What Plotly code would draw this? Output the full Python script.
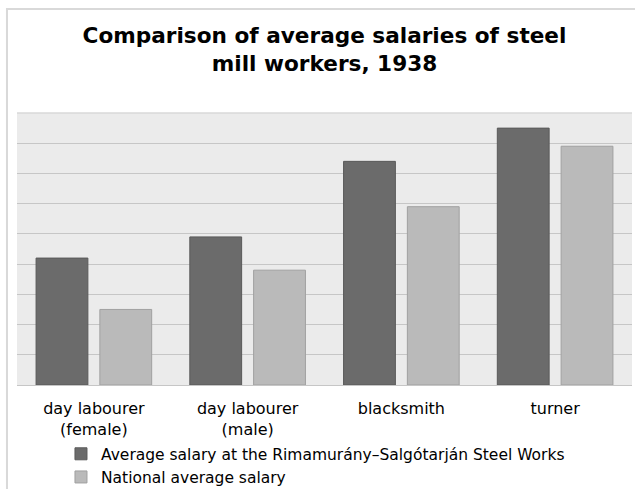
import plotly.graph_objects as go

categories = ["day labourer<br>(female)", "day labourer<br>(male)", "blacksmith", "turner"]
works_salary = [42, 49, 74, 85]
national_salary = [25, 38, 59, 79]
series_names = ["Average salary at the Rimamurány–Salgótarján Steel Works", "National average salary"]

FONT = "DejaVu Sans"

fig = go.Figure()
fig.add_trace(go.Bar(x=categories, y=works_salary, name=series_names[0],
                     marker=dict(color="#6b6b6b", line=dict(color="#5a5a5a", width=1))))
fig.add_trace(go.Bar(x=categories, y=national_salary, name=series_names[1],
                     marker=dict(color="#bababa", line=dict(color="#a0a0a0", width=1))))

fig.update_layout(
    width=635, height=489,
    margin=dict(l=17, r=3, t=113, b=104, autoexpand=False),
    paper_bgcolor="white",
    plot_bgcolor="#ebebeb",
    barmode="group",
    bargap=0.17,
    bargroupgap=0.188,
    title=dict(text="<b>Comparison of average salaries of steel<br>mill workers, 1938</b>",
               x=0.5, xanchor="center", xref="paper", y=0.913, yanchor="middle",
               font=dict(family=FONT, size=21.6, color="#000000")),
    font=dict(family=FONT, color="#000000"),
    showlegend=True,
    legend=dict(orientation="v", x=0.0715, xanchor="left", xref="paper",
                y=-0.192, yanchor="top", yref="paper",
                font=dict(family=FONT, size=15.5, color="#000000"),
                itemwidth=30, tracegroupgap=0, bgcolor="rgba(0,0,0,0)"),
    shapes=[dict(type="rect", xref="paper", yref="paper", x0=-0.0163, x1=1.02, y0=-0.5, y1=1.382,
                 line=dict(color="#d9d9d9", width=2), fillcolor="rgba(0,0,0,0)", layer="below")],
)
fig.update_xaxes(showgrid=False, ticks="", tickfont=dict(size=16, color="#000000"),
                 ticklabelstandoff=9, automargin=False,
                 showline=True, linecolor="#c6c6c6", linewidth=1, mirror=False)
fig.update_yaxes(range=[0, 90], dtick=10, showticklabels=False, gridcolor="#c6c6c6", gridwidth=1,
                 zeroline=False, showline=False, automargin=False)
fig.add_shape(type="line", xref="paper", yref="paper", x0=0, x1=1, y0=1, y1=1,
              line=dict(color="#d9d9d9", width=1.5))

fig.write_html("out.html", config={"displayModeBar": False}, post_script=(
    "document.body.style.margin='0px';"
    "document.body.style.overflow='hidden';"
    "document.documentElement.style.overflow='hidden';"))
